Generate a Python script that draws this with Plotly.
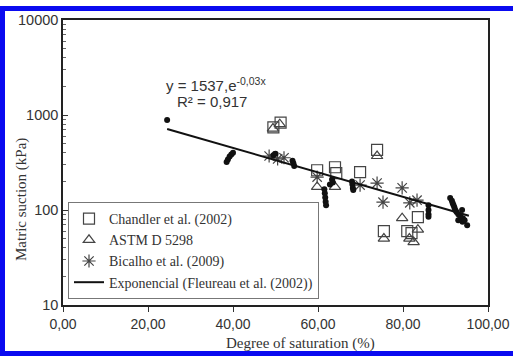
import plotly.graph_objects as go

# ---- data ----
chandler_x = [49.5, 51.2, 59.8, 64.0, 64.3, 69.9, 73.9, 83.5, 75.5, 81.0, 82.0]
chandler_y = [740, 830, 262, 282, 245, 251, 430, 84, 60, 60, 57]

astm_x = [49.4, 51.0, 59.8, 64.0, 73.9, 79.8, 75.5, 81.5, 82.5, 83.5]
astm_y = [720, 800, 175, 175, 370, 82, 50, 50, 46, 62]

bicalho_x = [48.5, 50.5, 52.0, 59.8, 69.9, 73.9, 75.3, 79.8, 81.6, 83.3]
bicalho_y = [370, 345, 355, 222, 183, 192, 121, 171, 119, 127]

fleureau_x = [24.5, 38.5, 38.8, 39.2, 39.6, 40.0, 49.5, 50.0, 54.0, 54.2, 54.4,
              61.5, 61.6, 61.7, 61.8, 61.9, 62.8, 63.3, 63.5, 68.0, 68.1, 68.2, 68.3,
              86.0, 86.0, 86.0, 86.0, 91.1, 91.5, 91.7, 91.9, 92.1, 92.3, 92.6, 93.0,
              93.0, 93.5, 93.9, 94.0, 94.1, 94.5, 95.1]
fleureau_y = [885, 320, 340, 365, 385, 400, 375, 390, 330, 310, 290,
              165, 150, 135, 122, 112, 185, 210, 195, 200, 185, 170, 162,
              112, 100, 90, 85, 134, 125, 118, 112, 106, 100, 95, 90,
              78, 85, 100, 75, 82, 78, 69]

trend_x = [24.5, 95.5]
trend_y = [713, 87]

xtick_vals = [0, 20, 40, 60, 80, 100]
xtick_text = ["0,00", "20,00", "40,00", "60,00", "80,00", "100,00"]
ytick_vals = [10, 100, 1000, 10000]
ytick_text = ["10", "100", "1000", "10000"]
yminor_vals = [m * d for d in (10, 100, 1000) for m in range(2, 10)]

W, H = 513, 356
PL, PR, PT, PB = 63, 488, 20, 305   # plot area in pixels


def px(x):
    return x / W


def py(y):
    return 1 - y / H


serif = "Liberation Serif, Times New Roman, serif"
sans = "Liberation Sans, Arial, sans-serif"

fig = go.Figure()
fig.add_trace(go.Scatter(x=chandler_x, y=chandler_y, mode="markers", name="Chandler et al. (2002)",
                         marker=dict(symbol="square-open", size=11, color="#444", line=dict(width=1.2))))
fig.add_trace(go.Scatter(x=astm_x, y=astm_y, mode="markers", name="ASTM D 5298",
                         marker=dict(symbol="triangle-up-open", size=10, color="#444", line=dict(width=1.2))))
fig.add_trace(go.Scatter(x=bicalho_x, y=bicalho_y, mode="markers", name="Bicalho et al. (2009)",
                         marker=dict(symbol="asterisk-open", size=11, color="#444", line=dict(width=1.2))))
fig.add_trace(go.Scatter(x=fleureau_x, y=fleureau_y, mode="markers", showlegend=False,
                         marker=dict(symbol="circle", size=6, color="#111")))
fig.add_trace(go.Scatter(x=trend_x, y=trend_y, mode="lines", name="Exponencial (Fleureau et al. (2002))",
                         line=dict(color="#111", width=2)))

blue = "#0a0af0"
shapes = [
    dict(type="rect", xref="paper", yref="paper", x0=px(0), x1=px(5), y0=py(356), y1=py(6),
         fillcolor=blue, line=dict(width=0)),
    dict(type="rect", xref="paper", yref="paper", x0=px(0), x1=px(513), y0=py(11), y1=py(6),
         fillcolor=blue, line=dict(width=0)),
    dict(type="rect", xref="paper", yref="paper", x0=px(0), x1=px(513), y0=py(356), y1=py(351),
         fillcolor=blue, line=dict(width=0)),
]

annotations = [
    dict(xref="paper", yref="paper", x=px(21), y=py(200), xanchor="center", yanchor="middle",
         text="Matric suction (kPa)", textangle=-90,
         showarrow=False, font=dict(family=serif, size=15, color="#333")),
    dict(xref="paper", yref="paper", x=px(300), y=py(343), xanchor="center", yanchor="middle",
         text="Degree of saturation (%)",
         showarrow=False, font=dict(family=serif, size=15, color="#333")),
    dict(xref="paper", yref="paper", x=px(164), y=py(85), xanchor="left", yanchor="middle",
         text="y = 1537,e<sup>-0,03x</sup>", showarrow=False, font=dict(family=sans, size=15, color="#333")),
    dict(xref="paper", yref="paper", x=px(175), y=py(101), xanchor="left", yanchor="middle",
         text="R² = 0,917", showarrow=False, font=dict(family=sans, size=15, color="#333")),
]

fig.update_layout(
    width=W, height=H, margin=dict(l=0, r=0, t=0, b=0, autoexpand=False),
    paper_bgcolor="white", plot_bgcolor="white",
    shapes=shapes, annotations=annotations,
    legend=dict(x=px(68), y=py(202), xanchor="left", yanchor="top",
                font=dict(family=serif, size=14, color="#333"),
                bgcolor="white", bordercolor="#777", borderwidth=1),
    xaxis=dict(domain=[px(PL), px(PR)], range=[0, 100], tickvals=xtick_vals, ticktext=xtick_text,
               showgrid=False, zeroline=False,
               ticks="outside", ticklen=5, tickcolor="#333", showline=True, linecolor="#222", linewidth=1.5,
               mirror=True, tickfont=dict(family=sans, size=14, color="#333")),
    yaxis=dict(domain=[py(PB), py(PT)], type="log", range=[1, 4], tickvals=ytick_vals, ticktext=ytick_text,
               showgrid=False,
               ticks="inside", ticklen=5, tickcolor="#333", showline=True, linecolor="#222", linewidth=1.5,
               mirror=True, tickfont=dict(family=sans, size=14.5, color="#333"),
               minor=dict(tickvals=yminor_vals, ticks="inside", ticklen=3, tickcolor="#666", showgrid=False)),
)

fig.write_html(
    "out.html",
    config={"displayModeBar": False},
    post_script=("document.body.style.margin='0px';"
                 "document.body.style.overflow='hidden';"
                 "document.documentElement.style.overflow='hidden';"),
)
